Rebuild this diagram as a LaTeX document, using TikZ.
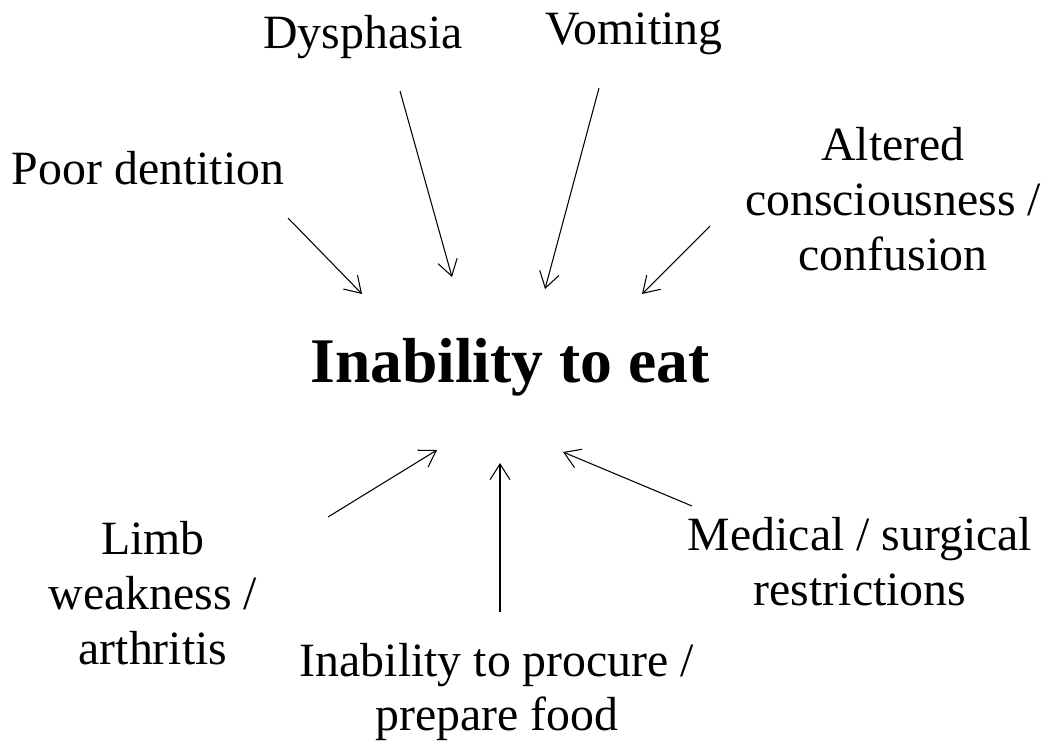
\documentclass[tikz,border=0pt]{standalone}
\usepackage{fontspec}
\setmainfont{Liberation Serif}
\usepackage{xcolor}
\usepackage{tikz}
\usetikzlibrary{arrows.meta}

\begin{document}
\begin{tikzpicture}[x=0.02cm, y=-0.02cm,
    factor/.style={align=center, inner sep=0pt, font=\fontsize{27.2}{31.2}\selectfont},
    cause/.style={line width=0.6pt, -{Straight Barb[length=8.9pt, width=11.3pt]}}]
  \useasboundingbox (0,0) rectangle (1043,746);
  \node[inner sep=0pt, anchor=base, font=\fontsize{36.2}{40}\selectfont\bfseries] (eat) at (510,382)
    {Inability to eat};
  \node[factor, anchor=base] (poor) at (148,185) {Poor dentition};
  \node[factor, anchor=base] (dys)  at (363,49)  {Dysphasia};
  \node[factor, anchor=base] (vom)  at (634,45)  {Vomiting};
  \node[factor] (alt)  at (893,199) {Altered\\ consciousness /\\ confusion};
  \node[factor] (limb) at (153,593) {Limb\\ weakness /\\ arthritis};
  \node[factor] (proc) at (497,692) {Inability to procure /\\ prepare food};
  \node[factor] (med)  at (860,562) {Medical / surgical\\ restrictions};
  \draw[cause] ([shift={(140,33)}]poor.base)   -- ([shift={(-148,-88)}]eat.base);
  \draw[cause] ([shift={(37,42)}]dys.base)     -- ([shift={(-58,-105)}]eat.base);
  \draw[cause] ([shift={(-35,43)}]vom.base)    -- ([shift={(35,-93)}]eat.base);
  \draw[cause] ([shift={(-183,27)}]alt.center) -- ([shift={(132,-88)}]eat.base);
  \draw[cause] ([shift={(175,-76)}]limb.center) -- ([shift={(-73,68)}]eat.base);
  \draw[cause] ([shift={(3,-80)}]proc.center)  -- ([shift={(-10,81)}]eat.base);
  \draw[cause] ([shift={(-168,-56)}]med.center) -- ([shift={(53,70)}]eat.base);
\end{tikzpicture}
\end{document}
